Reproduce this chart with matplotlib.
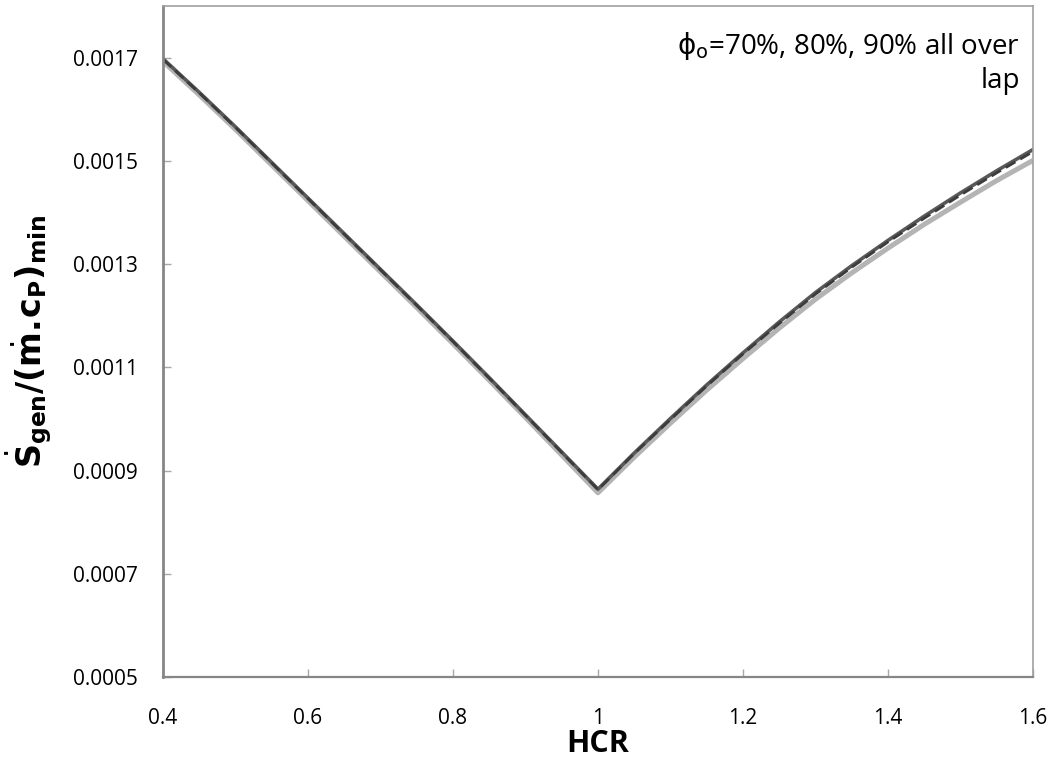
import numpy as np
import matplotlib
matplotlib.use('Agg')
import matplotlib.pyplot as plt

# HCR sweep and dimensionless entropy generation for the three outlet humidities
hcr = [0.4, 0.45, 0.5, 0.55, 0.6, 0.65, 0.7, 0.75, 0.8, 0.85, 0.9, 0.95, 1.0,
       1.05, 1.1, 1.15, 1.2, 1.25, 1.3, 1.35, 1.4, 1.45, 1.5, 1.55, 1.6]
sgen_90 = [0.001698, 0.001633, 0.001566, 0.001497, 0.001428, 0.001359, 0.001290,
           0.001221, 0.001151, 0.001080, 0.001008, 0.000936, 0.000864,
           0.000934, 0.001001, 0.001066, 0.001128, 0.001188, 0.001245, 0.001297,
           0.001346, 0.001393, 0.001438, 0.001481, 0.001522]
sgen_80 = [0.001697, 0.001632, 0.001565, 0.001496, 0.001427, 0.001358, 0.001289,
           0.001220, 0.001150, 0.001079, 0.001007, 0.000935, 0.000863,
           0.000933, 0.000999, 0.001064, 0.001126, 0.001185, 0.001242, 0.001294,
           0.001343, 0.001389, 0.001434, 0.001477, 0.001518]
sgen_70 = [0.001693, 0.001628, 0.001561, 0.001492, 0.001423, 0.001354, 0.001285,
           0.001216, 0.001146, 0.001075, 0.001003, 0.000930, 0.000857,
           0.000926, 0.000992, 0.001056, 0.001117, 0.001176, 0.001232, 0.001283,
           0.001331, 0.001377, 0.001420, 0.001462, 0.001501]

xticks = [0.4, 0.6, 0.8, 1.0, 1.2, 1.4, 1.6]
xtick_labels = ['0.4', '0.6', '0.8', '1', '1.2', '1.4', '1.6']
yticks = [0.0005, 0.0007, 0.0009, 0.0011, 0.0013, 0.0015, 0.0017]

plt.rcParams['mathtext.fontset'] = 'dejavusans'

fig = plt.figure(figsize=(10.55, 7.65), dpi=100)
ax = fig.add_axes([0.1545, 0.115, 0.8246, 0.877])

ax.plot(hcr, sgen_70, color='#b4b4b4', lw=3.6, solid_capstyle='butt')
ax.plot(hcr, sgen_90, color='#585858', lw=2.6)
ax.plot(hcr, sgen_80, color='#3c3c3c', lw=2.0, ls=(0, (4, 2)))

ax.set_xlim(0.4, 1.6)
ax.set_ylim(0.0005, 0.0018)
ax.set_xticks(xticks)
ax.set_xticklabels(xtick_labels)
ax.set_yticks(yticks)
ax.set_yticklabels(['%.4f' % v for v in yticks])

for sp in ax.spines.values():
    sp.set_color('#a0a0a0')
    sp.set_linewidth(1.2)
ax.spines['left'].set_color('#868686')
ax.spines['left'].set_linewidth(2.0)
ax.spines['bottom'].set_color('#868686')
ax.spines['bottom'].set_linewidth(1.6)

ax.tick_params(axis='both', direction='in', length=6, width=1, color='#a8a8a8',
               labelsize=15, labelcolor='black')
ax.tick_params(axis='x', pad=22)
ax.tick_params(axis='y', pad=18)
for lab in ax.get_xticklabels() + ax.get_yticklabels():
    lab.set_family(['Open Sans', 'DejaVu Sans'])

ax.set_xlabel('HCR', fontsize=22, fontweight='bold', labelpad=0,
              family=['Open Sans', 'DejaVu Sans'])
ax.set_ylabel(r'$\dot{\mathbf{S}}_{\mathbf{gen}}\mathbf{/(}\dot{\mathbf{m}}\mathbf{.}\!\mathbf{c}_{\mathbf{P}}\mathbf{)}_{\mathbf{min}}$',
              fontsize=24, labelpad=14)

ax.text(0.985, 0.965, r'$\mathrm{ϕ}_\mathrm{o}$=70%, 80%, 90% all over' + '\nlap',
        transform=ax.transAxes, ha='right', va='top', fontsize=20,
        family='Open Sans', linespacing=1.25)

fig.savefig('out.png', dpi=100)
